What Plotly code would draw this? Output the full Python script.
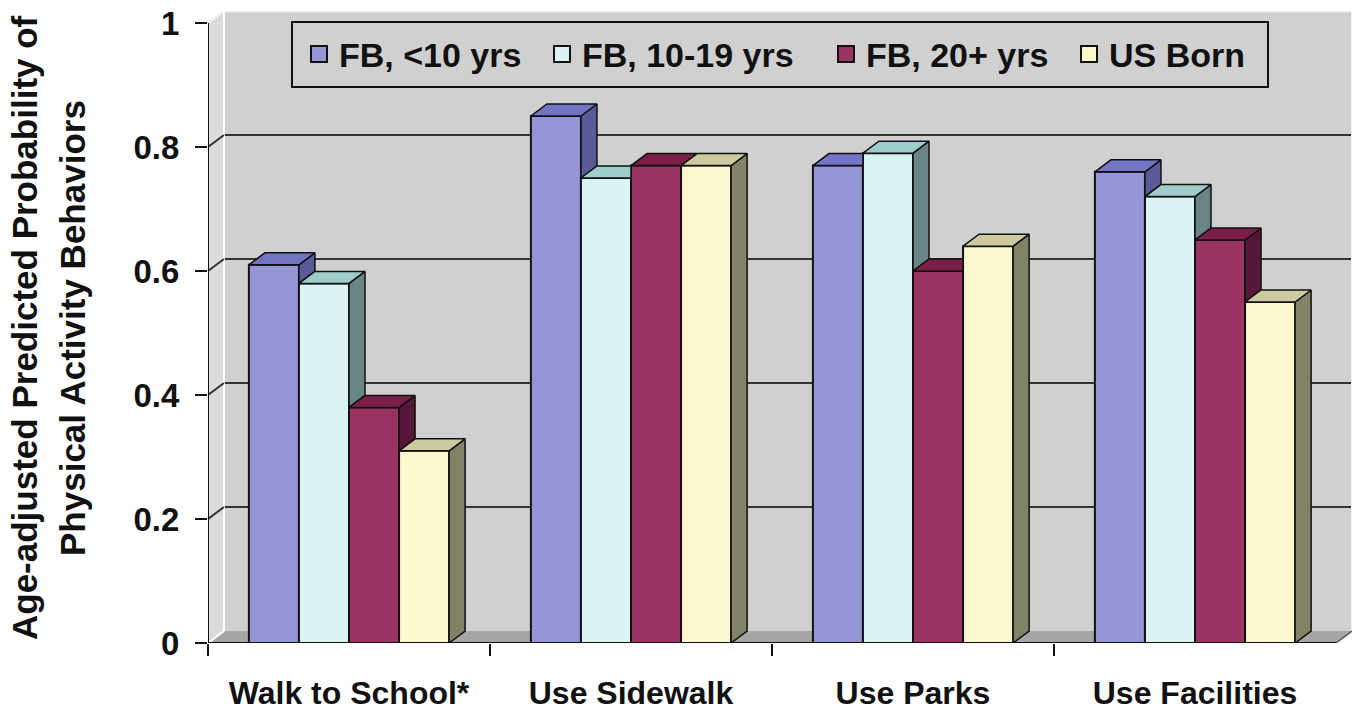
import plotly.graph_objects as go

# ---------------- data ----------------
categories = ["Walk to School*", "Use Sidewalk", "Use Parks", "Use Facilities"]
series_names = ["FB, <10 yrs", "FB, 10-19 yrs", "FB, 20+ yrs", "US Born"]
fb_lt10 = [0.61, 0.85, 0.77, 0.76]
fb_10_19 = [0.58, 0.75, 0.79, 0.72]
fb_20plus = [0.38, 0.77, 0.60, 0.65]
us_born = [0.31, 0.77, 0.64, 0.55]
y_tick_vals = [0, 0.2, 0.4, 0.6, 0.8, 1]
y_tick_text = ["0", "0.2", "0.4", "0.6", "0.8", "1"]
grid_vals = [0.2, 0.4, 0.6, 0.8]
title_lines = ["Age-adjusted Predicted Probability of", "Physical Activity Behaviors"]

series = [fb_lt10, fb_10_19, fb_20plus, us_born]

# ---------------- styles ----------------
front_colors = ["#9696d6", "#daf4f4", "#9a3262", "#fbf8d0"]
top_colors = ["#7474c6", "#9ecdcb", "#7a2048", "#cdcaa0"]
side_colors = ["#5a5a98", "#6a8585", "#551838", "#828266"]
wall_color = "#d0d0d0"
left_wall_color = "#dcdcdc"
floor_color = "#a6a6a6"
edge = "#111111"
FONT = "Liberation Sans, Arial, sans-serif"

W, H = 1358, 715
ML, MR, MT, MB = 208, 6, 11, 72
plot_w = W - ML - MR
plot_h = H - MT - MB
unit_x = 282.0
dx = 16.0 / unit_x           # depth offset in x (category units)
dy = 12.0 / 620.0            # depth offset in y (value units)
bargap = 0.29
n = len(series)
bw = (1 - bargap) / n

# legend layout (pixels)
legend_box = (292, 22, 1268, 87)
legend_item_x = [299, 542, 826, 1069]


def px_x(p):
    return (p - ML) / plot_w


def px_y(p):
    return (H - MB - p) / plot_h


x_pos = list(range(len(categories)))
x0 = -0.5
x1 = len(categories) - 0.5

fig = go.Figure()

legend_ids = ["legend", "legend2", "legend3", "legend4"]

# front faces (real bars); legend entries come from linked marker traces
for k, vals in enumerate(series):
    fig.add_trace(go.Bar(
        x=x_pos, y=vals, name=series_names[k], legendgroup=series_names[k],
        showlegend=False,
        marker=dict(color=front_colors[k], line=dict(color=edge, width=2)),
        hovertemplate="%{y:.2f}<extra>" + series_names[k] + "</extra>",
    ))

# 3-D top and side faces computed from the values
for k, vals in enumerate(series):
    tx, ty, sx, sy = [], [], [], []
    for i, v in enumerate(vals):
        xl = x_pos[i] + (k - (n - 1) / 2) * bw - bw / 2
        xr = xl + bw
        nxt = series[k + 1][i] if k < n - 1 else None
        # side face
        if nxt is None:
            poly = [(xr, 0), (xr + dx, dy), (xr + dx, v + dy), (xr, v)]
        elif v > nxt:
            poly = [(xr, nxt), (xr + dx, nxt + dy), (xr + dx, v + dy), (xr, v)]
        else:
            poly = None
        if poly:
            for p in poly + [poly[0]]:
                sx.append(p[0]); sy.append(p[1])
            sx.append(None); sy.append(None)
        # top face
        if nxt is not None and nxt > v:
            if nxt >= v + dy:
                poly = [(xl, v), (xr, v), (xr, v + dy), (xl + dx, v + dy)]
            else:
                f = (nxt - v) / dy
                poly = [(xl, v), (xr, v), (xr, nxt), (xr + dx * f, nxt),
                        (xr + dx, v + dy), (xl + dx, v + dy)]
        else:
            poly = [(xl, v), (xr, v), (xr + dx, v + dy), (xl + dx, v + dy)]
        for p in poly + [poly[0]]:
            tx.append(p[0]); ty.append(p[1])
        tx.append(None); ty.append(None)
    for xs, ys, col in ((sx, sy, side_colors[k]), (tx, ty, top_colors[k])):
        if xs:
            fig.add_trace(go.Scatter(
                x=xs, y=ys, mode="lines", fill="toself", fillcolor=col,
                line=dict(color=edge, width=1.5), showlegend=False,
                legendgroup=series_names[k], hoverinfo="skip",
            ))

# legend entries (square swatches) linked to the bar series
for k in range(n):
    fig.add_trace(go.Scatter(
        x=[None], y=[None], mode="markers", name=series_names[k],
        legendgroup=series_names[k], showlegend=True, legend=legend_ids[k],
        marker=dict(symbol="square", size=22, color=front_colors[k],
                    line=dict(color=edge, width=2)),
        hoverinfo="skip",
    ))

# helper trace for back-wall grid axis
fig.add_trace(go.Scatter(x=[None], y=[None], yaxis="y2", showlegend=False,
                         hoverinfo="skip"))

xd = x0 + dx
shapes = [
    # left wall
    dict(type="path", path=f"M {x0},0 L {xd},{dy} L {xd},{1+dy} L {x0},1 Z",
         fillcolor=left_wall_color, line=dict(width=0), layer="between"),
    dict(type="path", path=f"M {x0},1 L {xd},{1+dy} L {x0},{1+dy} Z",
         fillcolor="white", line=dict(width=0), layer="between"),
    # floor
    dict(type="path", path=f"M {x0},0 L {xd},{dy} L {x1+dx},{dy} L {x1},0 Z",
         fillcolor=floor_color, line=dict(width=0), layer="between"),
    dict(type="path", path=f"M {x1},0 L {x1+dx},0 L {x1+dx},{dy} Z",
         fillcolor="white", line=dict(width=0), layer="between"),
    # highlights
    dict(type="line", x0=xd, y0=dy, x1=xd, y1=1 + dy,
         line=dict(color="white", width=2), layer="between"),
    dict(type="line", x0=x0, y0=0, x1=xd, y1=dy,
         line=dict(color="white", width=2), layer="between"),
    dict(type="line", x0=xd, y0=1 + dy, x1=x1 + dx, y1=1 + dy,
         line=dict(color="#f2f2f2", width=3), layer="between"),
    dict(type="line", x0=x0, y0=1, x1=xd, y1=1 + dy,
         line=dict(color="#f2f2f2", width=2), layer="between"),
    dict(type="line", x0=x1 + dx, y0=dy, x1=x1 + dx, y1=1 + dy,
         line=dict(color="#f2f2f2", width=2), layer="between"),
    # axis lines
    dict(type="line", x0=x0, y0=0, x1=x0, y1=1,
         line=dict(color=edge, width=2), layer="above"),
    dict(type="line", x0=x0, y0=0, x1=x1, y1=0,
         line=dict(color=edge, width=2), layer="above"),
    dict(type="line", x0=x1, y0=0, x1=x1 + dx, y1=dy,
         line=dict(color="#555", width=1.5), layer="between"),
    # legend frame
    dict(type="rect", xref="paper", yref="paper",
         x0=px_x(legend_box[0]), x1=px_x(legend_box[2]),
         y0=px_y(legend_box[3]), y1=px_y(legend_box[1]),
         fillcolor=wall_color, line=dict(color=edge, width=2), layer="above"),
]
for t in grid_vals:
    shapes.append(dict(type="line", x0=x0, y0=t, x1=xd, y1=t + dy,
                       line=dict(color="#333", width=2), layer="between"))

annotations = []
for j, (txt, px) in enumerate(zip(title_lines, [24.0, 72.0])):
    annotations.append(dict(
        text=txt, textangle=-90, xref="paper", yref="paper",
        x=px_x(px), y=px_y(328),
        xanchor="center", yanchor="middle", showarrow=False,
        font=dict(family=FONT, size=35, color=edge, weight="bold"),
    ))

legend_cfg = {}
ymid = (legend_box[1] + legend_box[3]) / 2.0
for k, lid in enumerate(legend_ids):
    legend_cfg[lid] = dict(
        orientation="h", x=px_x(legend_item_x[k]), y=px_y(ymid),
        xanchor="left", yanchor="middle", bgcolor="rgba(0,0,0,0)",
        borderwidth=0,
        font=dict(family=FONT, size=34, color=edge, weight="bold"),
    )

fig.update_layout(
    width=W, height=H,
    margin=dict(l=ML, r=MR, t=MT, b=MB, pad=0, autoexpand=False),
    paper_bgcolor="white", plot_bgcolor=wall_color,
    barmode="group", bargap=bargap, bargroupgap=0,
    font=dict(family=FONT, size=32, color=edge, weight="bold"),
    showlegend=True,
    xaxis=dict(
        range=[x0, x1 + dx], tickvals=x_pos, ticktext=categories,
        ticks="", showgrid=False, zeroline=False, showline=False,
        tickfont=dict(family=FONT, size=32, color=edge, weight="bold"),
        ticklabelstandoff=28, automargin=False,
        minor=dict(tickvals=[x0 + i for i in range(len(categories))],
                   ticks="outside", ticklen=12, tickwidth=2, tickcolor=edge,
                   showgrid=False),
        fixedrange=True,
    ),
    yaxis=dict(
        range=[0, 1 + dy], tickvals=y_tick_vals, ticktext=y_tick_text,
        ticks="outside", ticklen=12, tickwidth=2, tickcolor=edge,
        showgrid=False, zeroline=False, showline=False,
        tickfont=dict(family=FONT, size=33, color=edge, weight="bold"),
        ticklabelstandoff=9, automargin=False, fixedrange=True,
    ),
    yaxis2=dict(
        overlaying="y", range=[-dy, 1], tickvals=grid_vals,
        showgrid=True, gridcolor="#333333", gridwidth=2,
        showticklabels=False, ticks="", zeroline=False, showline=False,
        automargin=False, fixedrange=True,
    ),
    shapes=shapes,
    annotations=annotations,
    **legend_cfg,
)

fig.write_html("out.html", config={"displayModeBar": False},
               post_script="document.body.style.margin='0';")
